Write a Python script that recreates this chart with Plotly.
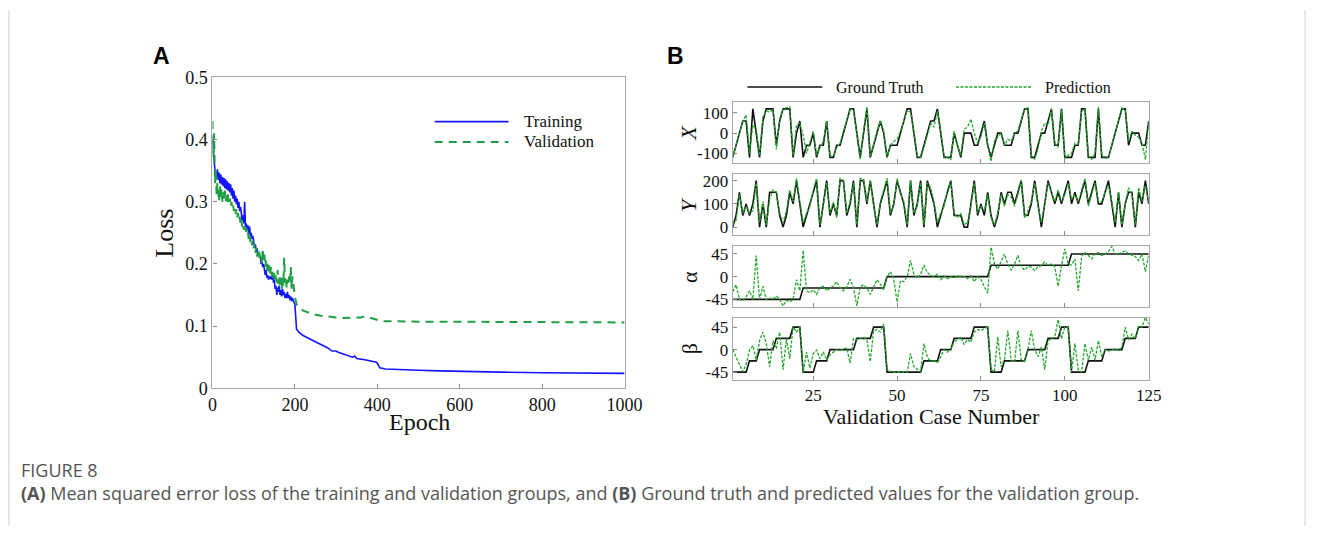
import plotly.graph_objects as go

W, H = 1328, 536

# ---------------- Panel A: loss curves ----------------
train_epochs = list(range(0, 201, 2)) + [201, 202, 204, 210, 220, 240, 260, 270, 280, 290, 300, 305,
                                         320, 340, 345, 350, 370, 390, 398, 402, 406, 420, 450, 500,
                                         550, 600, 650, 700, 800, 900, 1000]
train_loss = [0.40, 0.38, 0.36, 0.35, 0.345, 0.34, 0.352, 0.335, 0.347, 0.33,
              0.344, 0.328, 0.34, 0.325, 0.338, 0.322, 0.336, 0.32, 0.333, 0.318,
              0.33, 0.315, 0.328, 0.31, 0.322, 0.305, 0.318, 0.30, 0.31, 0.296,
              0.305, 0.29, 0.30, 0.285, 0.292, 0.28, 0.27, 0.278, 0.265, 0.30,
              0.26, 0.265, 0.255, 0.262, 0.248, 0.26, 0.245, 0.25, 0.24, 0.245,
              0.235, 0.228, 0.232, 0.22, 0.225, 0.215, 0.22, 0.21, 0.212, 0.20,
              0.205, 0.195, 0.20, 0.19, 0.182, 0.19, 0.178, 0.182, 0.175, 0.18,
              0.176, 0.18, 0.175, 0.185, 0.17, 0.175, 0.16, 0.165, 0.15, 0.162,
              0.155, 0.165, 0.15, 0.158, 0.148, 0.16, 0.15, 0.155, 0.145, 0.152,
              0.145, 0.155, 0.145, 0.15, 0.142, 0.148, 0.14, 0.145, 0.14, 0.138,
              0.135,
              0.12, 0.10, 0.095, 0.09, 0.085, 0.078, 0.072, 0.068, 0.065, 0.06, 0.06, 0.058,
              0.055, 0.05, 0.052, 0.048, 0.046, 0.044, 0.042, 0.038, 0.033, 0.031, 0.030, 0.029,
              0.028, 0.027, 0.026, 0.026, 0.025, 0.025, 0.024]

val_epochs = list(range(0, 201, 2)) + [204, 210, 220, 240, 260, 280, 300, 320, 340, 360, 370,
                                       380, 395, 410, 450, 500, 600, 700, 800, 1000]
val_loss = [0.43, 0.37, 0.41, 0.33, 0.35, 0.31, 0.33, 0.315, 0.30, 0.325,
            0.305, 0.32, 0.30, 0.315, 0.305, 0.318, 0.30, 0.31, 0.298, 0.312,
            0.30, 0.305, 0.292, 0.30, 0.29, 0.295, 0.285, 0.29, 0.28, 0.288,
            0.275, 0.282, 0.27, 0.276, 0.265, 0.272, 0.26, 0.266, 0.255, 0.26,
            0.25, 0.258, 0.245, 0.25, 0.24, 0.248, 0.235, 0.24, 0.23, 0.238,
            0.225, 0.232, 0.218, 0.226, 0.212, 0.22, 0.21, 0.218, 0.205, 0.212,
            0.20, 0.225, 0.205, 0.215, 0.195, 0.205, 0.19, 0.20, 0.188, 0.198,
            0.185, 0.195, 0.18, 0.19, 0.178, 0.188, 0.175, 0.185, 0.17, 0.19,
            0.168, 0.182, 0.165, 0.178, 0.16, 0.18, 0.165, 0.21, 0.17, 0.18,
            0.16, 0.175, 0.165, 0.18, 0.17, 0.195, 0.16, 0.18, 0.165, 0.155,
            0.148,
            0.135, 0.13, 0.125, 0.12, 0.117, 0.115, 0.114, 0.113, 0.113, 0.114, 0.116,
            0.114, 0.11, 0.108, 0.108, 0.107, 0.107, 0.107, 0.106, 0.106]

# ---------------- Panel B: validation cases ----------------
case_numbers = list(range(1, 126))

x_truth = [-120, -60, 0, 60, 60, -120, 120, 0, -120, 60,
           120, 120, 120, -60, 60, 120, 120, 120, -120, 0,
           60, -120, -60, -60, 0, -120, -60, -60, 60, -120,
           -120, -60, -60, 0, 60, 120, 120, 0, -120, 0,
           120, -120, -60, 0, 60, 0, -120, -60, -60, -60,
           0, 60, 120, 120, 0, -120, -120, -60, 0, 60,
           60, 120, 0, -120, -120, -120, 0, -60, -120, 0,
           0, 0, -60, -60, 0, 60, -60, -120, -60, 0,
           0, -60, -60, -60, 0, 0, 60, 120, 120, -120,
           -120, -60, 0, 0, 60, 120, -60, -60, 120, -120,
           -120, -120, -60, -60, 120, 120, -120, -120, -120, 120,
           -120, -120, -120, -60, 0, 60, 120, 120, -60, 0,
           0, 0, -60, -60, 60]
x_pred = [-120, -60, 0, 60, 90, -100, 40, 20, -110, 80,
          110, 105, 115, -80, 70, 120, 125, 130, -110, 40,
          50, -10, -100, -50, 10, -110, -70, -40, 60, -115,
          -115, -70, -50, 10, 60, 120, 115, -10, -130, 10,
          130, -115, -50, 10, 60, 10, -120, -60, -40, -30,
          10, 60, 110, 105, 10, -115, -120, -70, -10, 50,
          30, 110, 10, -120, -120, -130, 10, -60, -110, 20,
          30, 70, 0, -50, -20, 50, -60, -140, -40, -20,
          0, -60, -30, -40, 0, 10, 60, 120, 125, -110,
          -130, -80, 10, 50, 40, 120, -50, -70, 115, -125,
          -110, -100, -50, -55, 110, 120, -110, -130, -100, 130,
          -110, -125, -120, -60, 10, 60, 125, 115, -40, 10,
          -10, -20, -50, -130, 50]

y_truth = [0, 50, 150, 50, 100, 50, 100, 200, 0, 100,
           0, 150, 150, 150, 50, 0, 50, 150, 100, 200,
           100, 0, 50, 100, 150, 200, 0, 100, 200, 50,
           100, 50, 200, 200, 50, 100, 200, 0, 200, 200,
           100, 200, 100, 0, 100, 150, 200, 50, 100, 200,
           150, 100, 0, 200, 50, 100, 200, 0, 200, 150,
           100, 0, 50, 100, 150, 200, 50, 50, 50, 0,
           0, 100, 200, 50, 100, 50, 150, 50, 0, 50,
           150, 100, 150, 150, 100, 150, 200, 50, 50, 100,
           200, 100, 0, 100, 200, 150, 100, 150, 100, 150,
           200, 100, 150, 100, 150, 200, 100, 150, 200, 100,
           100, 150, 200, 100, 0, 150, 0, 100, 150, 150,
           0, 150, 100, 200, 100]
y_pred = [10, 30, 140, 60, 90, 60, 70, 190, 20, 110,
          10, 120, 160, 150, 60, 20, 70, 160, 110, 210,
          110, 20, 60, 90, 160, 210, 10, 90, 190, 60,
          110, 40, 210, 200, 60, 110, 190, 10, 210, 205,
          110, 200, 90, 10, 110, 160, 210, 60, 90, 210,
          140, 110, 10, 200, 60, 90, 190, 10, 190, 170,
          110, 20, 60, 90, 160, 200, 60, 40, 60, 10,
          20, 90, 190, 60, 90, 70, 140, 40, 10, 60,
          140, 90, 140, 130, 90, 140, 200, 40, 70, 110,
          190, 90, 20, 100, 190, 150, 110, 160, 110, 140,
          190, 120, 140, 110, 160, 210, 90, 140, 190, 110,
          110, 150, 180, 110, 20, 150, 10, 100, 170, 140,
          10, 170, 110, 180, 110]

alpha_truth = [-45, -45, -45, -45, -45, -45, -45, -45, -45, -45,
               -45, -45, -45, -45, -45, -45, -45, -45, -45, -45,
               -45, -22.5, -22.5, -22.5, -22.5, -22.5, -22.5, -22.5, -22.5, -22.5,
               -22.5, -22.5, -22.5, -22.5, -22.5, -22.5, -22.5, -22.5, -22.5, -22.5,
               -22.5, -22.5, -22.5, -22.5, -22.5, -22.5, 0, 0, 0, 0,
               0, 0, 0, 0, 0, 0, 0, 0, 0, 0,
               0, 0, 0, 0, 0, 0, 0, 0, 0, 0,
               0, 0, 0, 0, 0, 0, 0, 22.5, 22.5, 22.5,
               22.5, 22.5, 22.5, 22.5, 22.5, 22.5, 22.5, 22.5, 22.5, 22.5,
               22.5, 22.5, 22.5, 22.5, 22.5, 22.5, 22.5, 22.5, 22.5, 22.5,
               22.5, 45, 45, 45, 45, 45, 45, 45, 45, 45,
               45, 45, 45, 45, 45, 45, 45, 45, 45, 45,
               45, 45, 45, 45, 45]
alpha_pred = [-30, -16, -45, -48, -40, -28, -45, 42, -45, -19,
              -45, -42, -45, -38, -45, -58, -47, -50, -45, -6,
              -28, 52, -28, -32, -26, -35, -22, -19, -28, -22,
              -18, -10, -22, -28, -20, -5, -22, -58, -20, -16,
              -22, -35, -20, -6, -15, -26, 0, 10, -5, -50,
              -8, -10, 0, 32, 5, -3, 5, 23, 8, 3,
              0, 5, -6, 2, -4, 0, -3, 2, 0, 0,
              -4, 2, -10, 0, -6, -20, -33, 58, 26, 15,
              30, 45, 25, 13, 25, 42, 20, 13, 20, 19,
              12, 20, 22, 29, 22, 25, 20, -19, 22, 55,
              25, 23, 35, -28, 40, 48, 42, 35, 45, 48,
              42, 45, 50, 60, 45, 45, 48, 51, 45, 42,
              40, 32, 45, 10, 42]

beta_truth = [-45, -45, -45, -45, -45, -22.5, -22.5, -22.5, 0, 0,
              0, 0, 0, 22.5, 22.5, 22.5, 22.5, 22.5, 45, 45,
              45, -45, -45, -45, -45, -22.5, -22.5, -22.5, -22.5, 0,
              0, 0, 0, 0, 0, 0, 0, 22.5, 22.5, 22.5,
              22.5, 22.5, 45, 45, 45, 45, -45, -45, -45, -45,
              -45, -45, -45, -45, -45, -45, -45, -22.5, -22.5, -22.5,
              -22.5, -22.5, 0, 0, 0, 0, 22.5, 22.5, 22.5, 22.5,
              22.5, 22.5, 45, 45, 45, 45, 45, -45, -45, -45,
              -45, -22.5, -22.5, -22.5, -22.5, -22.5, -22.5, -22.5, 0, 0,
              0, 0, 0, 0, 22.5, 22.5, 22.5, 22.5, 45, 45,
              45, -45, -45, -45, -45, -45, -22.5, -22.5, -22.5, -22.5,
              -22.5, 0, 0, 0, 0, 0, 0, 22.5, 22.5, 22.5,
              22.5, 45, 45, 45, 45]
beta_pred = [0, -15, -27, -44, -30, -1, 8, -21, 18, 35,
             12, -34, 18, 2, 35, -40, 22, -18, 45, 35,
             45, -47, -5, -37, -8, -1, -18, -5, -21, -10,
             -5, 0, -2, 2, 3, -27, 22, 20, 22, 25,
             20, -24, 38, 40, 35, 51, -40, -44, -45, -44,
             -46, -44, -45, -8, -34, -40, -44, 12, -15, -24,
             -20, -27, -14, 0, -5, 2, 15, 20, 25, 10,
             20, 15, 35, 40, 38, 42, 45, -40, -44, 25,
             -34, -20, 38, -21, -25, 38, -21, -22, 0, 38,
             0, -14, 5, -40, 18, 22, 25, 60, 22, 45,
             45, -44, 12, -40, -45, 12, -21, 5, -21, 18,
             -14, 0, -3, 0, 2, -2, 5, 45, 20, 31,
             22, 48, 45, 64, 51]

# ---------------- styling ----------------
SERIF = "Liberation Serif, Times New Roman, serif"
BLUE = "#1414ff"
VGREEN = "#1f9e45"
PGREEN = "#22a82a"
FRAME = "#a8a8a8"


def px_x(p):
    return p / W


def px_y(p):
    return 1 - p / H


fig = go.Figure()

fig.add_trace(go.Scatter(x=train_epochs, y=train_loss, mode="lines", name="Training",
                         line=dict(color=BLUE, width=1.6), xaxis="x", yaxis="y"))
fig.add_trace(go.Scatter(x=val_epochs, y=val_loss, mode="lines", name="Validation",
                         line=dict(color=VGREEN, width=2, dash="8px,6px"), xaxis="x", yaxis="y"))

panels = [(x_truth, x_pred, "2"), (y_truth, y_pred, "3"),
          (alpha_truth, alpha_pred, "4"), (beta_truth, beta_pred, "5")]
for truth, pred, k in panels:
    fig.add_trace(go.Scatter(x=case_numbers, y=truth, mode="lines", name="Ground Truth",
                             line=dict(color="#111111", width=1.6), xaxis="x" + k, yaxis="y" + k))
    fig.add_trace(go.Scatter(x=case_numbers, y=pred, mode="lines", name="Prediction",
                             line=dict(color=PGREEN, width=1.3, dash="3px,1.5px"),
                             xaxis="x" + k, yaxis="y" + k))

axis_common = dict(showline=True, linecolor=FRAME, linewidth=1.2, mirror=True,
                   ticks="inside", ticklen=4, tickcolor="#888", showgrid=False,
                   zeroline=False)

layout = dict(
    width=W, height=H, margin=dict(l=0, r=0, t=0, b=0),
    paper_bgcolor="white", plot_bgcolor="white", showlegend=False,
    xaxis=dict(domain=[px_x(212), px_x(631)], range=[0, 1000], anchor="y",
               tickvals=[0, 200, 400, 600, 800, 1000],
               tickfont=dict(family=SERIF, size=18, color="#111"), **axis_common),
    yaxis=dict(domain=[px_y(393), px_y(70)], range=[0, 0.5], anchor="x",
               tickvals=[0, 0.1, 0.2, 0.3, 0.4, 0.5],
               ticktext=["0", "0.1", "0.2", "0.3", "0.4", "0.5"],
               tickfont=dict(family=SERIF, size=18, color="#111"), **axis_common),
)

b_rows = {"2": (96, 159, [-148, 152], [-100, 0, 100], ["-100", "0", "100"]),
          "3": (170, 234, [-35, 230], [0, 100, 200], ["0", "100", "200"]),
          "4": (245, 309, [-61, 61], [-45, 0, 45], ["-45", "0", "45"]),
          "5": (320, 384, [-60, 63], [-45, 0, 45], ["-45", "0", "45"])}
for k, (top, bot, yr, tv, tt) in b_rows.items():
    layout["xaxis" + k] = dict(domain=[px_x(741), px_x(1164)], range=[1, 125], anchor="y" + k,
                               tickvals=[25, 50, 75, 100, 125], showticklabels=(k == "5"),
                               tickfont=dict(family=SERIF, size=17, color="#111"), **axis_common)
    layout["yaxis" + k] = dict(domain=[px_y(bot), px_y(top)], range=yr, anchor="x" + k,
                               tickvals=tv, ticktext=tt,
                               tickfont=dict(family=SERIF, size=17, color="#111"), **axis_common)

fig.update_layout(**layout)

ann = []


def text(x, y, s, size, family=SERIF, color="#111", angle=0, xanchor="center", **kw):
    ann.append(dict(x=px_x(x), y=px_y(y), xref="paper", yref="paper", text=s, showarrow=False,
                    font=dict(family=family, size=size, color=color), textangle=angle,
                    xanchor=xanchor, yanchor="middle", **kw))


# panel letters
text(160, 48, "<b>A</b>", 23, family="Arial, Liberation Sans, sans-serif", color="#000")
text(683, 48, "<b>B</b>", 23, family="Arial, Liberation Sans, sans-serif", color="#000")

# axis titles
text(163, 232, "Loss", 26, angle=-90)
text(422, 428, "Epoch", 24)
text(943, 422, "Validation Case Number", 22)
text(696, 127, "<i>X</i>", 22, angle=-90)
text(696, 202, "<i>Y</i>", 22, angle=-90)
text(697, 277, "α", 22, angle=-90)
text(697, 352, "β", 22, angle=-90)

# legend texts
text(527, 116, "Training", 17, xanchor="left")
text(527, 137, "Validation", 17, xanchor="left")
text(844, 80, "Ground Truth", 16, xanchor="left")
text(1057, 80, "Prediction", 16, xanchor="left")

# caption
CAPTION_FONT = "Open Sans, Noto Sans, sans-serif"
text(15, 478, "FIGURE 8", 18, family=CAPTION_FONT, color="#555", xanchor="left")
text(15, 502, "<b>(A)</b> Mean squared error loss of the training and validation groups, and "
              "<b>(B)</b> Ground truth and predicted values for the validation group.",
     18, family=CAPTION_FONT, color="#555", xanchor="left")

shapes = [
    # legend samples
    dict(type="line", xref="paper", yref="paper", x0=px_x(438), x1=px_x(513), y0=px_y(116), y1=px_y(116),
         line=dict(color=BLUE, width=1.8)),
    dict(type="line", xref="paper", yref="paper", x0=px_x(438), x1=px_x(513), y0=px_y(137), y1=px_y(137),
         line=dict(color=VGREEN, width=2, dash="8px,6px")),
    dict(type="line", xref="paper", yref="paper", x0=px_x(756), x1=px_x(832), y0=px_y(80), y1=px_y(80),
         line=dict(color="#111111", width=1.6)),
    dict(type="line", xref="paper", yref="paper", x0=px_x(968), x1=px_x(1045), y0=px_y(80), y1=px_y(80),
         line=dict(color=PGREEN, width=1.3, dash="3px,1.5px")),
    # outer frame edges
    dict(type="line", xref="paper", yref="paper", x0=px_x(5), x1=px_x(5), y0=0, y1=1,
         line=dict(color="#d0d0d0", width=1)),
    dict(type="line", xref="paper", yref="paper", x0=px_x(1323), x1=px_x(1323), y0=0, y1=1,
         line=dict(color="#d0d0d0", width=1)),
]

fig.update_layout(annotations=ann, shapes=shapes)
fig.write_html("out.html")
